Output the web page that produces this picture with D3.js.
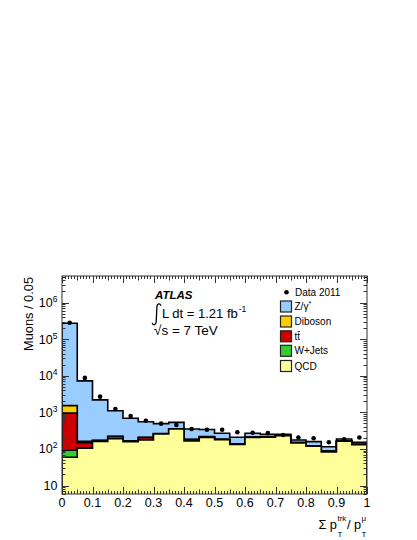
<!DOCTYPE html>
<html><head><meta charset="utf-8">
<script src="https://cdn.jsdelivr.net/npm/d3@7"></script>
<style>
body{margin:0;background:#fff}
svg{display:block;font-family:"Liberation Sans",Arial,Helvetica,sans-serif}
</style>
</head><body>
<svg id="c" width="417" height="540"></svg>
<script>
// ---------------- data ----------------
const binLow = [0.00,0.05,0.10,0.15,0.20,0.25,0.30,0.35,0.40,0.45,0.50,0.55,0.60,0.65,0.70,0.75,0.80,0.85,0.90,0.95];
const binWidth = 0.05;
const qcd     = [59,105,160,190,158,175,255,350,165,205,178,133,205,208,230,145,118,82,162,130];
const wjets   = [33,3,3,25,2,2,2,2,12,2,2,1,1,1,1,1,1,1,1,1];
const ttbar   = [860,40,6,3,4,28,3,3,3,8,3,3,3,3,3,2,2,5,2,2];
const diboson = [570,14,3,2,2,2,2,2,2,2,1,1,1,1,1,1,1,1,1,1];
const zgamma  = [268500,7040,2018,880,524,343,228,173,168,123,83,70,57,37,15,26,36,26,21,18];
const data2011= [280000,8700,2680,1230,790,590,490,450,350,335,335,285,277,270,240,204,195,152,182,204];

const xTicks = [0,0.1,0.2,0.3,0.4,0.5,0.6,0.7,0.8,0.9,1];
const xTickLabels = ["0","0.1","0.2","0.3","0.4","0.5","0.6","0.7","0.8","0.9","1"];
const yMajorTicks = [10,100,1000,10000,100000,1000000];
const yTickBase = ["10","10","10","10","10","10"];
const yTickExp  = ["","2","3","4","5","6"];

const seriesNames  = ["QCD","W+Jets","ttbar","Diboson","Z/γ*"];
const seriesColors = ["#ffff99","#33cc33","#cc0000","#ffcc00","#99ccff"];
const seriesValues = [qcd, wjets, ttbar, diboson, zgamma];

// ---------------- layout ----------------
const L = 62, R = 367, T = 276, B = 494;
const svg = d3.select("#c");
const x = d3.scaleLinear().domain([0,1]).range([L,R]);
const y = d3.scaleLog().domain([5.86, 5.3e6]).range([B,T]);
const axisColor = "#333";

svg.append("defs").append("clipPath").attr("id","clip")
  .append("rect").attr("x",L).attr("y",T).attr("width",R-L).attr("height",B-T);

const plot = svg.append("g").attr("clip-path","url(#clip)");

// cumulative stack
const cum = [];
seriesValues.forEach((vals,i)=>{
  cum.push(vals.map((v,j)=> v + (i>0 ? cum[i-1][j] : 0)));
});

function stepPoints(arr){
  const pts = binLow.map((b,j)=>[b, arr[j]]);
  pts.push([binLow[binLow.length-1]+binWidth, arr[arr.length-1]]);
  return pts;
}
const area = d3.area().curve(d3.curveStepAfter)
  .x(d=>x(d[0])).y0(B+2).y1(d=>y(Math.max(d[1],1)));

for(let i=seriesValues.length-1;i>=0;i--){
  plot.append("path").attr("d",area(stepPoints(cum[i])))
    .attr("fill",seriesColors[i]).attr("stroke","#000")
    .attr("stroke-width",1.6).attr("stroke-linejoin","miter");
}

// data points
plot.selectAll("circle.d").data(data2011).join("circle")
  .attr("cx",(d,j)=>x(binLow[j]+binWidth/2)).attr("cy",d=>y(d))
  .attr("r",2.3).attr("fill","#000");

// ---------------- axes ----------------
svg.append("rect").attr("x",L).attr("y",T).attr("width",R-L).attr("height",B-T)
  .attr("fill","none").attr("stroke",axisColor).attr("stroke-width",1);

// x ticks (minor 0.01, mid 0.05, major 0.1)
const xMinor = d3.range(0,101).map(k=>k/100);
const xg = svg.append("g").attr("stroke",axisColor).attr("stroke-width",1);
xMinor.forEach((v,k)=>{
  const len = (k%10===0)?7:((k%5===0)?4.5:3);
  const px = Math.round(x(v))+0.5;
  xg.append("line").attr("x1",px).attr("x2",px).attr("y1",B).attr("y2",B-len);
  xg.append("line").attr("x1",px).attr("x2",px).attr("y1",T).attr("y2",T+len);
});
svg.append("g").selectAll("text").data(xTicks).join("text")
  .attr("x",d=>x(d)).attr("y",507).attr("text-anchor","middle")
  .attr("font-size",12.5).attr("fill","#000").text((d,i)=>xTickLabels[i]);

// y ticks
const yg = svg.append("g").attr("stroke",axisColor).attr("stroke-width",1);
const yAllTicks = [];
[1,10,100,1000,10000,100000,1000000].forEach(dec=>{
  for(let m=1;m<=9;m++){
    const v = dec*m;
    if(v>=y.domain()[0] && v<=y.domain()[1]) yAllTicks.push({v, major:m===1});
  }
});
yAllTicks.forEach(t=>{
  const py = Math.round(y(t.v))+0.5;
  const len = t.major?7:3.5;
  yg.append("line").attr("x1",L).attr("x2",L+len).attr("y1",py).attr("y2",py);
  yg.append("line").attr("x1",R).attr("x2",R-len).attr("y1",py).attr("y2",py);
});
const ylab = svg.append("g");
yMajorTicks.forEach((v,i)=>{
  const t = ylab.append("text").attr("x",57.5).attr("y",y(v)+4.5)
    .attr("text-anchor","end").attr("font-size",12.5).attr("fill","#000");
  t.append("tspan").text(yTickBase[i]);
  if(yTickExp[i]) t.append("tspan").attr("font-size",8.5).attr("dy",-5).text(yTickExp[i]);
});

// y title
svg.append("text").attr("transform","translate(33,277) rotate(-90)")
  .attr("text-anchor","end").attr("font-size",12.8).attr("fill","#000").text("Muons / 0.05");

// x title : Σ p_T^trk / p_T^μ  (right aligned at R)
const xt = svg.append("g");
let cx = 0;
function addMain(str){
  const t = xt.append("text").attr("x",cx).attr("y",529).attr("font-size",12.8).text(str);
  cx += t.node().getComputedTextLength();
}
function addSubSup(sub,sup){
  const a = xt.append("text").attr("x",cx+0.5).attr("y",537).attr("font-size",8).text(sub);
  const b = xt.append("text").attr("x",cx+0.5).attr("y",521).attr("font-size",8).text(sup);
  cx += Math.max(a.node().getComputedTextLength(), b.node().getComputedTextLength())+1;
}
addMain("Σ p"); addSubSup("T","trk"); addMain(" / p"); addSubSup("T","μ");
xt.attr("transform",`translate(${R-cx},0)`);

// ---------------- labels ----------------
svg.append("text").attr("x",155).attr("y",299).attr("font-size",11.5)
  .attr("font-weight","bold").attr("font-style","italic").text("ATLAS");
// integral sign drawn as a stroke
svg.append("path")
  .attr("d","M160.8,305.2 C159.8,303.2 157.2,303.2 156.9,306.8 L156.2,321.8 C155.9,325.4 153.3,325.4 152.4,323.4")
  .attr("fill","none").attr("stroke","#000").attr("stroke-width",1.3).attr("stroke-linecap","round");
const lum = svg.append("text").attr("x",162).attr("y",318).attr("font-size",13);
lum.append("tspan").text("L dt = 1.21 fb");
lum.append("tspan").attr("font-size",8.5).attr("dy",-6).attr("dx",1).text("-1");
svg.append("text").attr("x",154).attr("y",335).attr("font-size",13.5).text("√s = 7 TeV");

// ---------------- legend ----------------
const lg = svg.append("g");
const legY = [292.3,306.5,321.5,336.3,350.8,366];
lg.append("circle").attr("cx",286.5).attr("cy",legY[0]).attr("r",2.3).attr("fill","#000");
lg.append("text").attr("x",295).attr("y",legY[0]+3.6).attr("font-size",10).text("Data 2011");
const legOrder = [4,3,2,1,0];
legOrder.forEach((si,k)=>{
  const cy = legY[k+1];
  lg.append("rect").attr("x",280.5).attr("y",cy-5.5).attr("width",11).attr("height",11)
    .attr("fill",seriesColors[si]).attr("stroke","#222").attr("stroke-width",1.2);
  const t = lg.append("text").attr("x",294.5).attr("y",cy+3.6).attr("font-size",10);
  if(seriesNames[si]==="Z/γ*"){
    t.append("tspan").text("Z/γ");
    t.append("tspan").attr("font-size",7).attr("dy",-4).text("*");
  } else if(seriesNames[si]==="ttbar"){
    t.text("tt");
    const w = t.node().getComputedTextLength()/2;
    lg.append("line").attr("x1",294.5+w+0.3).attr("x2",294.5+2*w).attr("y1",cy-4.8).attr("y2",cy-4.8)
      .attr("stroke","#000").attr("stroke-width",0.8);
  } else {
    t.text(seriesNames[si]);
  }
});
</script>
</body></html>
